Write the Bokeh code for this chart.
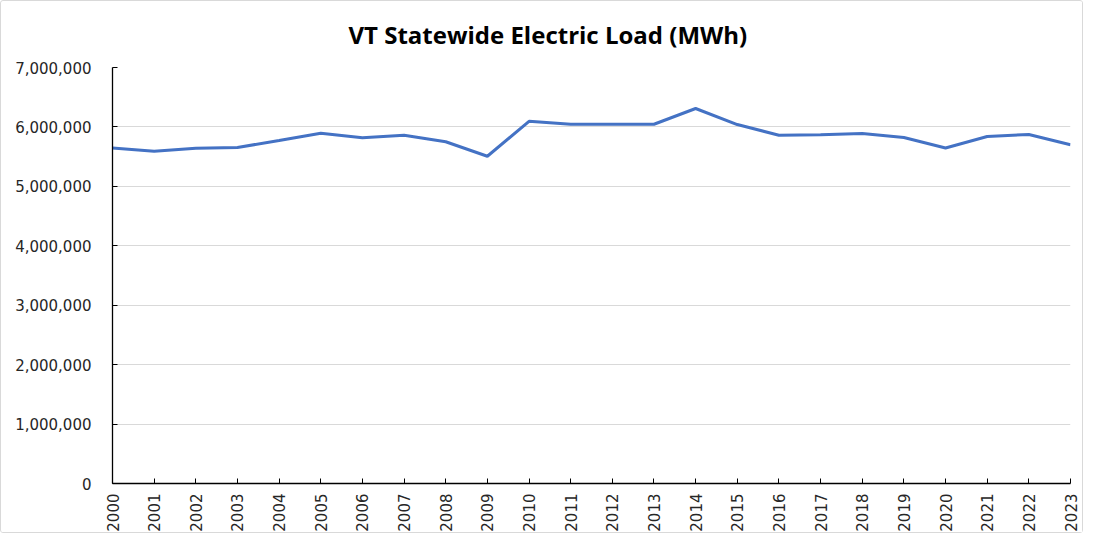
import math
from bokeh.plotting import figure
from bokeh.models import FixedTicker, NumeralTickFormatter, Range1d
from bokeh.embed import file_html
from bokeh.resources import INLINE

years = list(range(2000, 2024))
load_mwh = [5645000, 5590000, 5640000, 5655000, 5770000, 5895000, 5817000, 5860000,
            5750000, 5507000, 6095000, 6045000, 6045000, 6045000, 6310000, 6040000,
            5860000, 5870000, 5890000, 5823000, 5645000, 5840000, 5873000, 5700000]
y_ticks = [0, 1000000, 2000000, 3000000, 4000000, 5000000, 6000000, 7000000]
title_text = "VT Statewide Electric Load (MWh)"

p = figure(width=1083, height=533, output_backend="svg", toolbar_location=None,
           x_range=Range1d(years[0], years[-1]), y_range=Range1d(0, 7000000),
           min_border_left=111, min_border_right=14, min_border_top=66, min_border_bottom=46)

p.title.text = title_text
p.title.align = "left"
p.title.vertical_align = "top"
p.title.offset = 236
p.title.standoff = 30
p.title.text_font = "Open Sans"
p.title.text_font_size = "24px"
p.title.text_font_style = "bold"
p.title.text_color = "#000000"

p.line(years, load_mwh, line_color="#4472C4", line_width=3)

p.xaxis.ticker = FixedTicker(ticks=years)
p.yaxis.ticker = FixedTicker(ticks=y_ticks)
p.yaxis.formatter = NumeralTickFormatter(format="0,0")
p.xaxis.major_label_orientation = math.pi / 2

for ax in (p.xaxis, p.yaxis):
    ax.axis_line_color = "#000000"
    ax.axis_line_width = 1.3
    ax.major_tick_line_color = "#000000"
    ax.major_tick_in = 5
    ax.major_tick_out = 0
    ax.minor_tick_line_color = None
    ax.major_label_text_font = "DejaVu Sans"
    ax.major_label_text_font_size = "15px"
    ax.major_label_text_color = "#262626"

p.yaxis.major_label_standoff = 21
p.xaxis.major_label_standoff = 10

p.xgrid.grid_line_color = None
p.ygrid.grid_line_color = "#d9d9d9"
p.ygrid.grid_line_width = 1
p.outline_line_color = None
p.background_fill_color = "white"
p.border_fill_color = "white"
p.styles = {"border": "1px solid #d9d9d9", "border-radius": "3px"}

open("out.html", "w").write(file_html(p, INLINE))
